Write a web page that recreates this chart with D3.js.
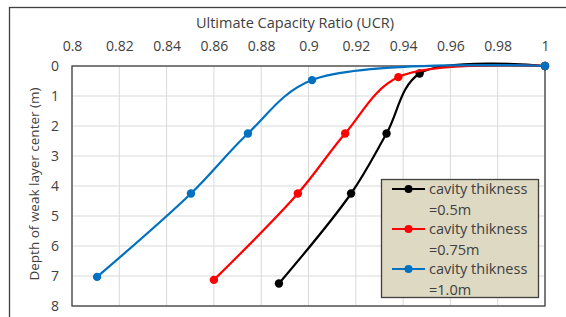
<!DOCTYPE html>
<html>
<head>
<meta charset="utf-8">
<script src="https://cdn.jsdelivr.net/npm/d3@7"></script>
<style>
  body { margin: 0; background: #fff; }
  text { font-family: "Open Sans", sans-serif; fill: #404040; }
</style>
</head>
<body>
<div id="chart-area"></div>
<script>
// values
let xTicks = [0.8, 0.82, 0.84, 0.86, 0.88, 0.9, 0.92, 0.94, 0.96, 0.98, 1];
let yTicks = [0, 1, 2, 3, 4, 5, 6, 7, 8];

let ucr05 = [1, 0.947, 0.933, 0.918, 0.8875];
let depth05 = [0, 0.25, 2.25, 4.25, 7.25];
let ucr075 = [1, 0.938, 0.9155, 0.8955, 0.860];
let depth075 = [0, 0.37, 2.25, 4.25, 7.13];
let ucr10 = [1, 0.9015, 0.8744, 0.8503, 0.8106];
let depth10 = [0, 0.47, 2.25, 4.25, 7.03];

let seriesNames = ["cavity thikness =0.5m", "cavity thikness =0.75m", "cavity thikness =1.0m"];
let seriesColors = ["#000000", "#FF0000", "#0070C0"];

let series = [
	{ucr: ucr05, depth: depth05},
	{ucr: ucr075, depth: depth075},
	{ucr: ucr10, depth: depth10}
].map((s, i) => ({
	name: seriesNames[i],
	color: seriesColors[i],
	points: s.ucr.map((u, j) => ({x: u, y: s.depth[j]}))
}));

let margin = {top: 66, right: 21, bottom: 11, left: 72};
let width = 566 - margin.left - margin.right;
let height = 317 - margin.top - margin.bottom;

let root = d3.select("#chart-area").append("svg")
	.attr("width", 566)
	.attr("height", 317);

// outer chart border
root.append("rect")
	.attr("x", 9.5).attr("y", 7.5)
	.attr("width", 600).attr("height", 400)
	.attr("fill", "none")
	.attr("stroke", "#404040")
	.attr("stroke-width", 1.3);

let svg = root.append("g")
	.attr("transform", "translate(" + margin.left + "," + margin.top + ")");

let x = d3.scaleLinear().domain([0.8, 1]).range([0, width]);
let y = d3.scaleLinear().domain([0, 8]).range([0, height]);

// gridlines
svg.append("g")
	.selectAll("line")
	.data(xTicks)
	.enter().append("line")
	.attr("x1", d => x(d)).attr("x2", d => x(d))
	.attr("y1", 0).attr("y2", height)
	.attr("stroke", "#D9D9D9");
svg.append("g")
	.selectAll("line")
	.data(yTicks)
	.enter().append("line")
	.attr("x1", 0).attr("x2", width)
	.attr("y1", d => y(d)).attr("y2", d => y(d))
	.attr("stroke", "#D9D9D9");

// plot border
svg.append("rect")
	.attr("x", 0).attr("y", 0)
	.attr("width", width).attr("height", height)
	.attr("fill", "none")
	.attr("stroke", "#404040")
	.attr("stroke-width", 1.3);

// axes
let xAxis = d3.axisTop(x).tickValues(xTicks).tickSize(0).tickPadding(15)
	.tickFormat(d => d3.format("")(+d.toFixed(2)));
svg.append("g").attr("class", "x-axis").call(xAxis)
	.call(g => g.select(".domain").remove())
	.selectAll("text")
	.style("font-size", "14px")
	.style("fill", "#404040");

let yAxis = d3.axisLeft(y).tickValues(yTicks).tickSize(0).tickPadding(13);
svg.append("g").attr("class", "y-axis").call(yAxis)
	.call(g => g.select(".domain").remove())
	.selectAll("text")
	.style("font-size", "14px")
	.style("fill", "#404040");

// axis titles
root.append("text")
	.attr("x", 295)
	.attr("y", 28)
	.attr("text-anchor", "middle")
	.style("font-size", "14.5px")
	.text("Ultimate Capacity Ratio (UCR)");

root.append("text")
	.attr("transform", "translate(39," + (margin.top + height / 2 - 2) + ") rotate(-90)")
	.attr("text-anchor", "middle")
	.style("font-size", "13.5px")
	.text("Depth of weak layer center (m)");

// lines
let line = d3.line()
	.x(d => x(d.x))
	.y(d => y(d.y))
	.curve(d3.curveCatmullRom.alpha(0.5));

series.forEach(s => {
	svg.append("path")
		.datum(s.points)
		.attr("fill", "none")
		.attr("stroke", s.color)
		.attr("stroke-width", 2.2)
		.attr("d", line);
	svg.selectAll(null)
		.data(s.points)
		.enter().append("circle")
		.attr("cx", d => x(d.x))
		.attr("cy", d => y(d.y))
		.attr("r", 4.2)
		.attr("fill", s.color);
});

// legend
let legend = root.append("g").attr("transform", "translate(381,179)");
legend.append("rect")
	.attr("x", 0.5).attr("y", 0.5)
	.attr("width", 157).attr("height", 118)
	.attr("fill", "#DDD9C3")
	.attr("stroke", "#404040")
	.attr("stroke-width", 1.3);

series.forEach((s, i) => {
	let g = legend.append("g").attr("transform", "translate(0," + (i * 40) + ")");
	g.append("line")
		.attr("x1", 11).attr("x2", 44)
		.attr("y1", 10).attr("y2", 10)
		.attr("stroke", s.color)
		.attr("stroke-width", 2.2);
	g.append("circle")
		.attr("cx", 27.5).attr("cy", 10).attr("r", 4)
		.attr("fill", s.color);
	let parts = s.name.split(" =");
	g.append("text")
		.attr("x", 48).attr("y", 15)
		.style("font-size", "14.5px")
		.text(parts[0]);
	g.append("text")
		.attr("x", 48).attr("y", 35.5)
		.style("font-size", "14.5px")
		.text("=" + parts[1]);
});
</script>
</body>
</html>
